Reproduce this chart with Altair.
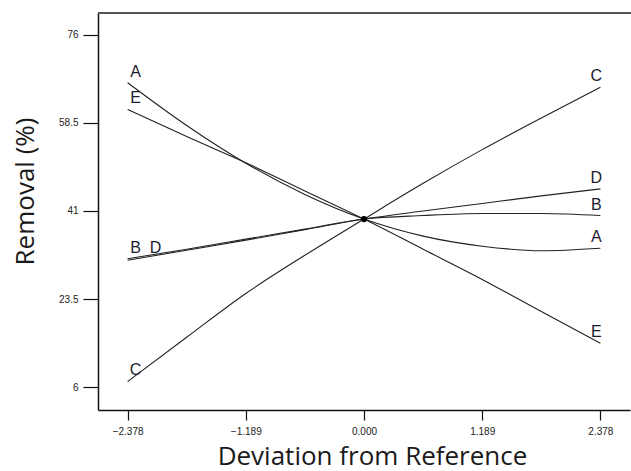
import altair as alt
import pandas as pd

# Perturbation plot data (deviation from reference, coded units)
x_dev = [-2.378, -1.784, -1.189, -0.595, 0.0, 0.595, 1.189, 1.784, 2.378]
A = [66.5, 58.0, 50.5, 44.3, 39.4, 36.0, 34.0, 33.1, 33.6]
B = [31.5, 33.4, 35.4, 37.4, 39.4, 40.1, 40.5, 40.5, 40.1]
C = [7.1, 15.9, 24.6, 32.2, 39.4, 46.5, 53.2, 59.5, 65.6]
D = [31.2, 33.2, 35.2, 37.3, 39.4, 41.0, 42.5, 44.0, 45.4]
E = [61.2, 55.8, 50.6, 45.0, 39.4, 33.4, 27.4, 21.0, 14.7]

x_ticks = [-2.378, -1.189, 0.0, 1.189, 2.378]
y_ticks = [6, 23.5, 41, 58.5, 76]

series = {"A": A, "B": B, "C": C, "D": D, "E": E}
rows = []
for name, vals in series.items():
    for xv, yv in zip(x_dev, vals):
        rows.append({"factor": name, "x": xv, "y": yv})
df = pd.DataFrame(rows)

left = pd.DataFrame([{"factor": k, "x": x_dev[0], "y": v[0]} for k, v in series.items()])
right = pd.DataFrame([{"factor": k, "x": x_dev[-1], "y": v[-1]} for k, v in series.items()])
center = pd.DataFrame([{"x": x_dev[4], "y": A[4]}])

W, H = 532, 397
xs = alt.Scale(domain=[-2.676, 2.676], nice=False, zero=False)
ys = alt.Scale(domain=[1.43, 80.37], nice=False, zero=False)

xaxis = alt.Axis(values=x_ticks, format=".3f", title="Deviation from Reference",
                 grid=False, tickSize=10, labelPadding=6, titleX=274, titleY=54,
                 titleAnchor="middle", titleAlign="center", titleBaseline="alphabetic")
yaxis = alt.Axis(values=y_ticks, labelExpr="'' + datum.value", title="Removal (%)", grid=False,
                 tickSize=15, labelPadding=5, titleX=-73, titleY=178, titleAngle=-90,
                 titleAlign="center", titleBaseline="middle")

lines = alt.Chart(df).mark_line(color="#222", strokeWidth=1.1, interpolate="monotone").encode(
    x=alt.X("x:Q", scale=xs, axis=xaxis),
    y=alt.Y("y:Q", scale=ys, axis=yaxis),
    detail="factor:N",
)

dot = alt.Chart(center).mark_circle(color="#000", size=40, opacity=1).encode(
    x=alt.X("x:Q", scale=xs), y=alt.Y("y:Q", scale=ys)
)

txt = dict(font="Liberation Sans", fontSize=16, color="#1c1c2e", baseline="middle", align="center")
left_main = alt.Chart(left).transform_filter("datum.factor != 'D'").mark_text(dx=8, dy=-11, **txt).encode(
    x=alt.X("x:Q", scale=xs), y=alt.Y("y:Q", scale=ys), text="factor:N"
)
left_d = alt.Chart(left).transform_filter("datum.factor == 'D'").mark_text(dx=28, dy=-12, **txt).encode(
    x=alt.X("x:Q", scale=xs), y=alt.Y("y:Q", scale=ys), text="factor:N"
)
right_lbl = alt.Chart(right).mark_text(dx=-4, dy=-11, **txt).encode(
    x=alt.X("x:Q", scale=xs), y=alt.Y("y:Q", scale=ys), text="factor:N"
)

top_rule = alt.Chart(center).mark_rule(color="#555", strokeWidth=2).encode(
    x=alt.value(0), x2=alt.value(W + 5), y=alt.value(0)
)

chart = alt.layer(lines, dot, left_main, left_d, right_lbl, top_rule).properties(
    width=W, height=H,
    autosize=alt.AutoSizeParams(type="none"),
    padding={"left": 98, "top": 13, "right": 1, "bottom": 61},
).configure_view(stroke=None).configure_axis(
    domainColor="#111", domainWidth=1.5, tickColor="#111", tickWidth=1.2,
    labelFont="Liberation Sans", labelFontSize=10, labelColor="#222",
    titleFont="Open Sans", titleFontSize=26, titleFontWeight="normal", titleColor="#1a1a1a",
)

chart.save("out.html", embed_options={"renderer": "svg", "actions": False})
